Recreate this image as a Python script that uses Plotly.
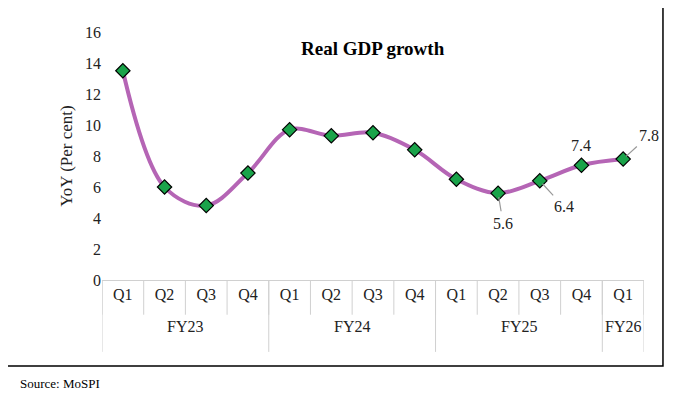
import plotly.graph_objects as go

quarters = ["Q1","Q2","Q3","Q4","Q1","Q2","Q3","Q4","Q1","Q2","Q3","Q4","Q1"]
fiscal_years = ["FY23","FY24","FY25","FY26"]
fy_sizes = [4, 4, 4, 1]
growth = [13.5, 6.0, 4.8, 6.9, 9.7, 9.3, 9.5, 8.4, 6.5, 5.6, 6.4, 7.4, 7.8]
y_ticks = [0, 2, 4, 6, 8, 10, 12, 14, 16]

F = "Liberation Serif, Times New Roman, serif"
x = list(range(len(quarters)))

fig = go.Figure(go.Scatter(
    x=x, y=growth, mode="lines+markers",
    line=dict(color="#b565b5", width=4, shape="spline", smoothing=1.0),
    marker=dict(symbol="diamond", size=11, color="#1aa34a", line=dict(color="black", width=1.2)),
    hoverinfo="skip"))

shapes = []
anns = []
grey = "#d0d0d0"
for i in range(len(quarters) + 1):
    shapes.append(dict(type="line", xref="x", yref="paper", x0=i - 0.5, x1=i - 0.5,
                       y0=0, y1=-0.14, line=dict(color=grey, width=1)))
start = 0
for fy, n in zip(fiscal_years, fy_sizes):
    shapes.append(dict(type="line", xref="x", yref="paper", x0=start - 0.5, x1=start - 0.5,
                       y0=0, y1=-0.29, line=dict(color=grey, width=1)))
    anns.append(dict(x=start + (n - 1) / 2, y=-0.23, xref="x", yref="paper", text=fy,
                     showarrow=False, font=dict(family=F, size=16, color="#222")))
    start += n
shapes.append(dict(type="line", xref="x", yref="paper", x0=start - 0.5, x1=start - 0.5,
                   y0=0, y1=-0.29, line=dict(color=grey, width=1)))
shapes.append(dict(type="rect", xref="paper", yref="paper", x0=-0.179, x1=1.035,
                   y0=-0.347, y1=1.113, line=dict(color="black", width=1.5)))

offsets = {9: (5, 30), 10: (24, 26), 11: (0, -22), 12: (26, -24)}
for i, (ax, ay) in offsets.items():
    arrow = i != 11
    anns.append(dict(x=i, y=growth[i], xref="x", yref="y", text=f"{growth[i]:.1f}",
                     showarrow=arrow, arrowhead=0, arrowcolor="#999", arrowwidth=1.2,
                     ax=ax, ay=ay, standoff=4, startstandoff=2,
                     yshift=0 if arrow else 20,
                     font=dict(family=F, size=16, color="#222")))

anns.append(dict(x=0.5, y=0.985, xref="paper", yref="paper", text="<b>Real GDP growth</b>",
                 showarrow=False, font=dict(family=F, size=19, color="black"), yanchor="top"))
anns.append(dict(x=-0.155, y=-0.38, xref="paper", yref="paper", text="Source: MoSPI",
                 showarrow=False, xanchor="left", yanchor="top",
                 font=dict(family=F, size=13, color="black")))

fig.update_layout(
    width=680, height=400, margin=dict(l=94, r=44, t=24, b=128),
    paper_bgcolor="white", plot_bgcolor="white", showlegend=False,
    shapes=shapes, annotations=anns,
    font=dict(family=F, size=16, color="#222"),
    xaxis=dict(range=[-0.5, len(quarters) - 0.5], tickvals=x, ticktext=quarters,
               showgrid=False, zeroline=False, showline=True, linecolor=grey,
               ticks="", tickfont=dict(family=F, size=16)),
    yaxis=dict(range=[0, 16], tickvals=y_ticks, showgrid=False, zeroline=False,
               showline=False, ticks="", tickfont=dict(family=F, size=16),
               title=dict(text="YoY (Per cent)", font=dict(family=F, size=17), standoff=8)),
)
fig.write_html("out.html")
